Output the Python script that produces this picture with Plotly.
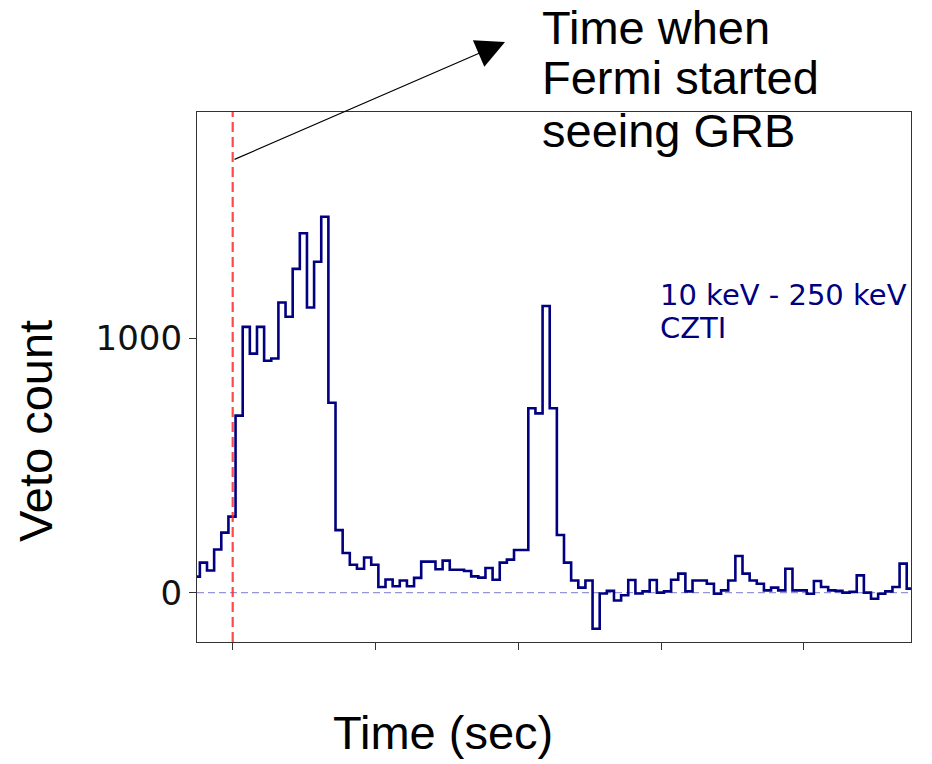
import plotly.graph_objects as go

# ---- data ----
# veto counts per 1-s bin (first bin is partially outside the axis)
counts = [
    63, 118, 87, 170, 236, 299, 696, 1045, 940, 1045,
    912, 921, 1141, 1085, 1273, 1413, 1121, 1301, 1478, 747,
    246, 156, 110, 94, 138, 110, 22, 52, 25, 48,
    25, 58, 122, 122, 92, 126, 90, 90, 85, 64,
    59, 97, 51, 118, 130, 168, 168, 725, 705, 1127,
    725, 227, 118, 48, 20, 48, -142, -3, 7, -31,
    -10, 50, -3, 5, 50, 0, 5, 51, 75, 5,
    48, 48, 35, -4, 9, 48, 144, 75, 48, 35,
    9, 20, 9, 94, 9, 9, -4, 46, 22, 9,
    7, 0, 3, 68, 0, -24, -4, 5, 22, 114,
    16,
]
first_bin_start = -5.6   # seconds relative to Fermi trigger
bin_width = 1.0
fermi_time = 0.0
x_ticks = [0, 20, 40, 60, 80]
y_ticks = [0, 1000]
x_range = [-5, 95]
y_range = [-194, 1890]
band_label = "10 keV - 250 keV"
instrument_label = "CZTI"
note_lines = ["Time when", "Fermi started", "seeing GRB"]

bin_starts = [first_bin_start + i * bin_width for i in range(len(counts))]
x_step = bin_starts + [bin_starts[-1] + bin_width]
y_step = counts + [counts[-1]]

NAVY = "#000080"
fig = go.Figure()
fig.add_trace(go.Scatter(
    x=x_step, y=y_step, mode="lines",
    line=dict(color=NAVY, width=2.6, shape="hv"),
    hoverinfo="skip", showlegend=False,
))

# zero reference line and Fermi trigger line
fig.add_shape(type="line", xref="paper", x0=0, x1=1, yref="y", y0=0, y1=0,
              line=dict(color="rgba(0,0,160,0.42)", width=1.3, dash="7px,4px"),
              layer="below")
fig.add_shape(type="line", xref="x", x0=fermi_time, x1=fermi_time,
              yref="paper", y0=0, y1=1,
              line=dict(color="rgba(255,40,40,0.85)", width=2.2, dash="10px,5px"))

fig.update_xaxes(range=x_range, tickvals=x_ticks, showticklabels=False,
                 ticks="outside", ticklen=7, tickwidth=1.3, tickcolor="#333",
                 showgrid=False, zeroline=False, showline=True, linecolor="#333",
                 linewidth=1.3, mirror=True)
fig.update_yaxes(range=y_range, tickvals=y_ticks, ticktext=[str(v) for v in y_ticks],
                 ticks="outside", ticklen=7, tickwidth=1.3, tickcolor="#333",
                 tickfont=dict(family="DejaVu Sans", size=34, color="#111"),
                 showgrid=False, zeroline=False, showline=True, linecolor="#333",
                 linewidth=1.3, mirror=True)

ann = []
BIG = dict(family="Liberation Sans, Arial", size=47, color="black")
ann.append(dict(text="Veto count", xref="paper", yref="paper", x=-0.227, y=0.398,
                textangle=-90, showarrow=False, font=BIG,
                xanchor="center", yanchor="middle"))
ann.append(dict(text="Time (sec)", xref="paper", yref="paper", x=0.3445, y=-0.17,
                showarrow=False, font=BIG, xanchor="center", yanchor="middle"))
for line, yy in zip(note_lines, [1.160, 1.065, 0.965]):
    ann.append(dict(text=line, xref="paper", yref="paper", x=0.4805, y=yy,
                    showarrow=False, font=BIG, xanchor="left", yanchor="middle"))
SMALL = dict(family="DejaVu Sans", size=29, color=NAVY)
ann.append(dict(text=band_label, xref="paper", yref="paper", x=0.6455, y=0.655,
                showarrow=False, font=SMALL, xanchor="left", yanchor="middle"))
ann.append(dict(text=instrument_label, xref="paper", yref="paper", x=0.6455, y=0.593,
                showarrow=False, font=SMALL, xanchor="left", yanchor="middle"))
# arrow pointing from the trigger line to the note
ann.append(dict(text="", xref="paper", yref="paper", x=0.4314, y=1.132,
                ax=-272, ay=118, axref="pixel", ayref="pixel",
                showarrow=True, arrowhead=2, arrowsize=4.8, arrowwidth=1.2,
                arrowcolor="black"))

fig.update_layout(
    width=932, height=764,
    margin=dict(l=197, r=21, t=112, b=122),
    plot_bgcolor="white", paper_bgcolor="white",
    annotations=ann, showlegend=False,
)

fig.write_html("out.html")
